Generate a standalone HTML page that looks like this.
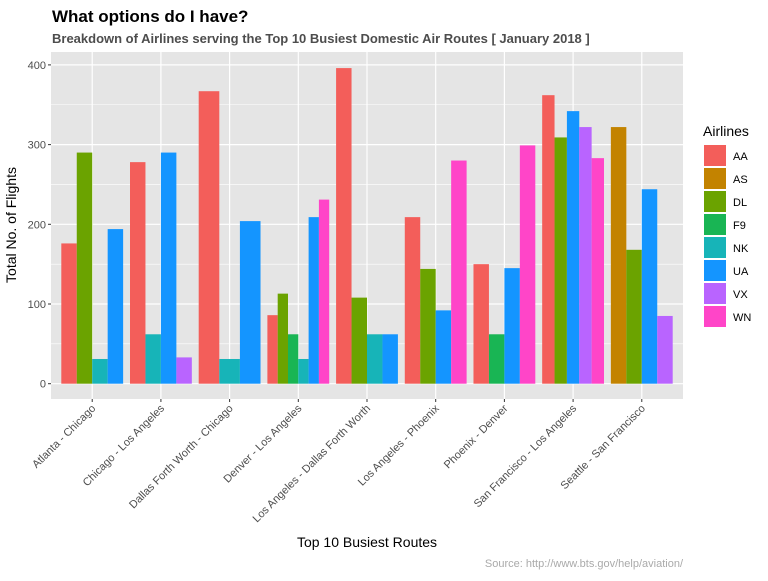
<!DOCTYPE html>
<html><head><meta charset="utf-8"><style>
body{margin:0;background:#fff;font-family:"Liberation Sans",sans-serif;}
</style></head><body>
<svg width="768" height="576" xmlns="http://www.w3.org/2000/svg" id="chart" font-family="Liberation Sans, sans-serif">
<text x="52" y="22" font-size="17" font-weight="bold" fill="#000">What options do I have?</text>
<text x="52" y="43" font-size="13" font-weight="bold" fill="#4d4d4d">Breakdown of Airlines serving the Top 10 Busiest Domestic Air Routes [ January 2018 ]</text>
<rect x="51" y="52" width="632" height="347" fill="#e5e5e5"/>
<g id="grid"></g><g id="bars"></g><g id="axes"></g><g id="legend"></g>
<text x="16" y="225" font-size="14" transform="rotate(-90 16 225)" text-anchor="middle" fill="#000">Total No. of Flights</text>
<text x="367" y="547" font-size="14" text-anchor="middle" fill="#000">Top 10 Busiest Routes</text>
<text x="683" y="567" font-size="11" text-anchor="end" fill="#aaaaaa">Source: http://www.bts.gov/help/aviation/</text>
</svg>
<script>
const routes=["Atlanta - Chicago","Chicago - Los Angeles","Dallas Forth Worth - Chicago","Denver - Los Angeles","Los Angeles - Dallas Forth Worth","Los Angeles - Phoenix","Phoenix - Denver","San Francisco - Los Angeles","Seattle - San Francisco"];
const airlines=["AA","AS","DL","F9","NK","UA","VX","WN"];
const colors=["#F35E5A","#C38300","#6BA300","#19B554","#17B4B8","#1495FF","#B964FF","#FF45C8"];
const AA=[176,278,367,86,396,209,150,362,null];
const AS=[null,null,null,null,null,null,null,null,322];
const DL=[290,null,null,113,108,144,null,309,168];
const F9=[null,null,null,62,null,null,62,null,null];
const NK=[31,62,31,31,62,null,null,null,null];
const UA=[194,290,204,209,62,92,145,342,244];
const VX=[null,33,null,null,null,null,null,322,85];
const WN=[null,null,null,231,null,280,299,283,null];
const yTicks=[0,100,200,300,400];
const series=[AA,AS,DL,F9,NK,UA,VX,WN];
const NS="http://www.w3.org/2000/svg";
const X0=51,X1=683,Y0=383.7,PPU=0.797;
const step=(X1-X0)/(routes.length+0.2);
const xc=i=>X0+step*(0.6+i);
const y=v=>Y0-v*PPU;
function mk(t,a,p){const e=document.createElementNS(NS,t);for(const k in a)e.setAttribute(k,a[k]);p.appendChild(e);return e;}
const grid=document.getElementById('grid'),bars=document.getElementById('bars'),axes=document.getElementById('axes'),leg=document.getElementById('legend');
for(let v=50;v<=400;v+=100){if(y(v)>52){const l=mk('line',{x1:X0,x2:X1,y1:y(v),y2:y(v),stroke:'#fff','stroke-width':0.6},grid);

}}
yTicks.forEach(v=>{const l=mk('line',{x1:X0,x2:X1,y1:y(v),y2:y(v),stroke:'#fff','stroke-width':1.2},grid);


mk('line',{x1:X0-3,x2:X0,y1:y(v),y2:y(v),stroke:'#333'},axes);
const t=mk('text',{x:X0-5,y:y(v)+4,'font-size':11,'text-anchor':'end',fill:'#4d4d4d'},axes);t.textContent=v;

});
routes.forEach((r,i)=>{const cx=xc(i);
const l=mk('line',{x1:cx,x2:cx,y1:52,y2:399,stroke:'#fff','stroke-width':1.2},grid);


mk('line',{x1:cx,x2:cx,y1:399,y2:402,stroke:'#333'},axes);
const t=mk('text',{x:cx+4,y:409,'font-size':11,'text-anchor':'end',fill:'#4d4d4d',transform:`rotate(-45 ${cx+4} 409)`},axes);t.textContent=r;


const present=[];series.forEach((s,k)=>{if(s[i]!=null)present.push(k);});
const gw=step*0.9,bw=gw/present.length;
present.forEach((k,j)=>{const v=series[k][i];
const b=mk('rect',{x:cx-gw/2+j*bw,y:y(v),width:bw,height:Y0-y(v),fill:colors[k]},bars);

});});
const lt=mk('text',{x:703,y:136,'font-size':14,fill:'#000'},leg);lt.textContent='Airlines';


airlines.forEach((a,k)=>{const yy=145+k*23;
const r=mk('rect',{x:704,y:yy,width:22,height:21,fill:colors[k]},leg);


const t=mk('text',{x:733,y:yy+15,'font-size':11,fill:'#000'},leg);t.textContent=a;

});
</script>
</body></html>
